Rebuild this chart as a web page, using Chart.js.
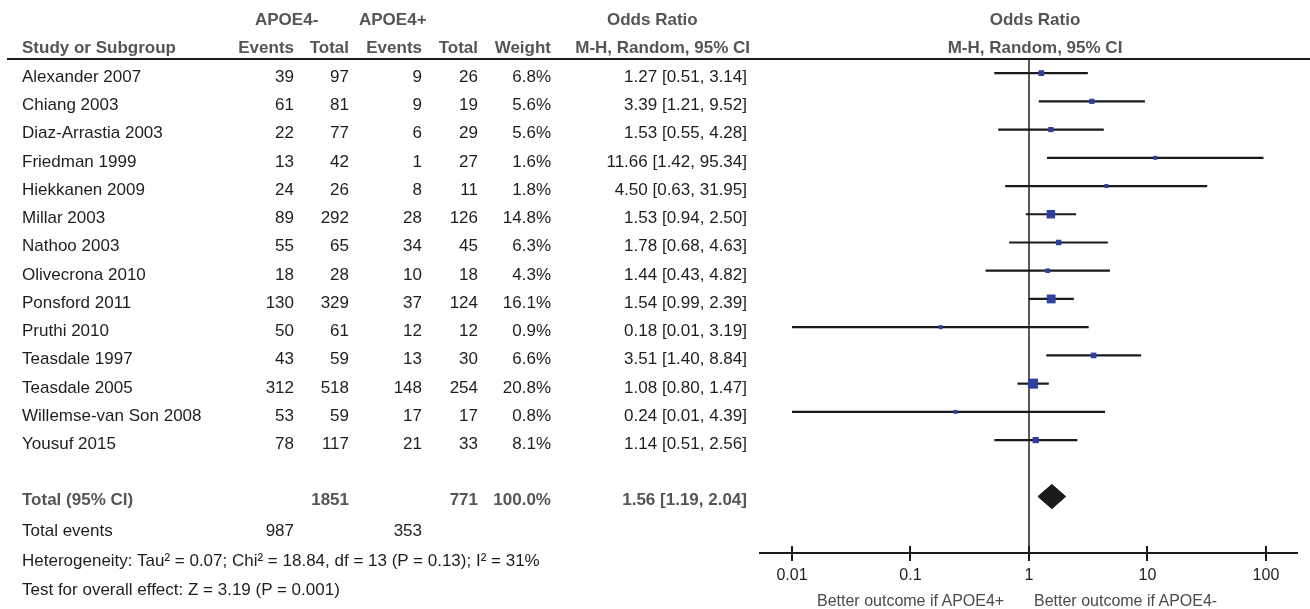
<!DOCTYPE html>
<html>
<head>
<meta charset="utf-8">
<script src="https://cdn.jsdelivr.net/npm/chart.js@4.4.1/dist/chart.umd.min.js"></script>
<style>
  html, body { margin: 0; padding: 0; background: #ffffff; }
  #wrap { position: relative; width: 1310px; height: 609px; overflow: hidden; font-family: "Liberation Sans", Arial, sans-serif; }
  #chartBox { position: absolute; left: 0; top: 0; width: 1310px; height: 609px; }
  .t { position: absolute; white-space: nowrap; font-size: 17px; line-height: 20px; color: #1e1e1e; }
  .h { font-weight: bold; color: #555555; }
  .s { font-size: 16px; }
  .g { color: #4a4a4a; }
  #hline { position: absolute; left: 7px; top: 58px; width: 1303px; height: 2px; background: #1a1a1a; }
</style>
</head>
<body>
<div id="wrap">
  <div id="chartBox"><canvas id="c" width="1310" height="609"></canvas></div>
  <div id="hline"></div>
</div>
<script>
// ---------- data ----------
const studies = ["Alexander 2007","Chiang 2003","Diaz-Arrastia 2003","Friedman 1999","Hiekkanen 2009","Millar 2003","Nathoo 2003","Olivecrona 2010","Ponsford 2011","Pruthi 2010","Teasdale 1997","Teasdale 2005","Willemse-van Son 2008","Yousuf 2015"];
const eventsNeg = [39,61,22,13,24,89,55,18,130,50,43,312,53,78];
const totalNeg  = [97,81,77,42,26,292,65,28,329,61,59,518,59,117];
const eventsPos = [9,9,6,1,8,28,34,10,37,12,13,148,17,21];
const totalPos  = [26,19,29,27,11,126,45,18,124,12,30,254,17,33];
const weights   = [6.8,5.6,5.6,1.6,1.8,14.8,6.3,4.3,16.1,0.9,6.6,20.8,0.8,8.1];
const orEst     = [1.27,3.39,1.53,11.66,4.50,1.53,1.78,1.44,1.54,0.18,3.51,1.08,0.24,1.14];
const ciLow     = [0.51,1.21,0.55,1.42,0.63,0.94,0.68,0.43,0.99,0.01,1.40,0.80,0.01,0.51];
const ciHigh    = [3.14,9.52,4.28,95.34,31.95,2.50,4.63,4.82,2.39,3.19,8.84,1.47,4.39,2.56];
const pooledOR  = 1.56;
const pooledLow = 1.19;
const pooledHigh= 2.04;
const totalNegN = 1851;
const totalPosN = 771;
const totalEventsNeg = 987;
const totalEventsPos = 353;
const xTicks = [0.01, 0.1, 1, 10, 100];
const xTickLabels = ["0.01","0.1","1","10","100"];

// ---------- layout helpers (text table) ----------
const wrap = document.getElementById('wrap');
function txt(str, cls, cy, opt) {
  const d = document.createElement('div');
  d.className = 't ' + (cls || '');
  d.textContent = str;
  d.style.top = (cy - 10) + 'px';
  if (opt.left !== undefined) d.style.left = opt.left + 'px';
  if (opt.right !== undefined) d.style.right = (1310 - opt.right) + 'px';
  if (opt.center !== undefined) { d.style.left = opt.center + 'px'; d.style.transform = 'translateX(-50%)'; }
  wrap.appendChild(d);
}
const fmt2 = v => v.toFixed(2);
const fmtW = v => v.toFixed(1) + '%';
const COL = { name: 22, ev1: 294, tot1: 349, ev2: 422, tot2: 478, w: 551, or: 747 };
const rowY = i => 77 + 28.23 * i;

// headers
txt('APOE4-', 'h', 20, { left: 255 });
txt('APOE4+', 'h', 20, { left: 359 });
txt('Odds Ratio', 'h', 20, { left: 607 });
txt('Odds Ratio', 'h', 20, { center: 1035 });
txt('Study or Subgroup', 'h', 48, { left: COL.name });
txt('Events', 'h', 48, { right: COL.ev1 });
txt('Total', 'h', 48, { right: COL.tot1 });
txt('Events', 'h', 48, { right: COL.ev2 });
txt('Total', 'h', 48, { right: COL.tot2 });
txt('Weight', 'h', 48, { right: COL.w });
txt('M-H, Random, 95% CI', 'h', 48, { right: 750 });
txt('M-H, Random, 95% CI', 'h', 48, { center: 1035 });

studies.forEach((s, i) => {
  const y = rowY(i);
  txt(s, '', y, { left: COL.name });
  txt(String(eventsNeg[i]), '', y, { right: COL.ev1 });
  txt(String(totalNeg[i]), '', y, { right: COL.tot1 });
  txt(String(eventsPos[i]), '', y, { right: COL.ev2 });
  txt(String(totalPos[i]), '', y, { right: COL.tot2 });
  txt(fmtW(weights[i]), '', y, { right: COL.w });
  txt(fmt2(orEst[i]) + ' [' + fmt2(ciLow[i]) + ', ' + fmt2(ciHigh[i]) + ']', '', y, { right: COL.or });
});

const totY = rowY(15);
txt('Total (95% CI)', 'h', totY, { left: COL.name });
txt(String(totalNegN), 'h', totY, { right: COL.tot1 });
txt(String(totalPosN), 'h', totY, { right: COL.tot2 });
txt('100.0%', 'h', totY, { right: COL.w });
txt(fmt2(pooledOR) + ' [' + fmt2(pooledLow) + ', ' + fmt2(pooledHigh) + ']', 'h', totY, { right: COL.or });
txt('Total events', '', 531, { left: COL.name });
txt(String(totalEventsNeg), '', 531, { right: COL.ev1 });
txt(String(totalEventsPos), '', 531, { right: COL.ev2 });
txt('Heterogeneity: Tau\u00B2 = 0.07; Chi\u00B2 = 18.84, df = 13 (P = 0.13); I\u00B2 = 31%', '', 561, { left: COL.name });
txt('Test for overall effect: Z = 3.19 (P = 0.001)', '', 590, { left: COL.name });
txt('Better outcome if APOE4+', 's g', 601, { left: 817 });
txt('Better outcome if APOE4-', 's g', 601, { left: 1034 });

// ---------- chart ----------
const ciDatasets = studies.map((s, i) => ({
  type: 'line',
  label: s + ' CI',
  data: [{ x: ciLow[i], y: i }, { x: ciHigh[i], y: i }],
  borderColor: '#1a1a1a',
  borderWidth: 2.2,
  pointRadius: 0,
  fill: false,
  order: 3
}));

const squares = {
  type: 'scatter',
  label: 'Study OR',
  data: studies.map((s, i) => ({ x: orEst[i], y: i })),
  pointStyle: 'rect',
  pointRadius: ctx => Math.max(4, 2.2 * Math.sqrt(weights[ctx.dataIndex])) / Math.SQRT2,
  backgroundColor: '#2f3f9d',
  borderWidth: 0,
  order: 0
};

const DIAMOND_HALF = 0.43;
const diamond = {
  type: 'line',
  label: 'Pooled',
  data: [
    { x: pooledLow, y: 15 },
    { x: pooledOR, y: 15 - DIAMOND_HALF },
    { x: pooledHigh, y: 15 },
    { x: pooledOR, y: 15 + DIAMOND_HALF },
    { x: pooledLow, y: 15 }
  ],
  borderColor: '#1a1a1a',
  backgroundColor: '#1a1a1a',
  borderWidth: 1,
  pointRadius: 0,
  tension: 0,
  fill: 'shape',
  order: 1
};

const tickTop = {
  id: 'tickTop',
  afterDraw(chart) {
    const s = chart.scales.x;
    const ctx = chart.ctx;
    ctx.save();
    ctx.strokeStyle = '#1a1a1a';
    ctx.lineWidth = 2;
    s.ticks.forEach(t => {
      const px = Math.round(s.getPixelForValue(t.value));
      ctx.beginPath();
      ctx.moveTo(px, s.top - 7);
      ctx.lineTo(px, s.top);
      ctx.stroke();
    });
    ctx.restore();
  }
};

new Chart(document.getElementById('c'), {
  type: 'scatter',
  data: { datasets: [squares, diamond, ...ciDatasets] },
  plugins: [tickTop],
  options: {
    responsive: false,
    devicePixelRatio: 1,
    animation: false,
    layout: { padding: { left: 760, right: 13, top: 59, bottom: 0 } },
    plugins: { legend: { display: false }, tooltip: { enabled: false } },
    scales: {
      x: {
        type: 'logarithmic',
        min: 0.00537,
        max: 182.8,
        afterBuildTicks: scale => { scale.ticks = xTicks.map(v => ({ value: v })); },
        afterFit: scale => { scale.height = 56; },
        ticks: {
          autoSkip: false,
          maxRotation: 0,
          padding: 5,
          color: '#1e1e1e',
          font: { family: '"Liberation Sans", Arial, sans-serif', size: 16 },
          callback: (v) => xTickLabels[xTicks.indexOf(v)] ?? ''
        },
        grid: {
          drawOnChartArea: true,
          drawTicks: true,
          tickLength: 8,
          tickColor: '#1a1a1a',
          tickWidth: 2,
          lineWidth: 2,
          color: ctx => (ctx.tick && ctx.tick.value === 1) ? '#5a5a5a' : 'rgba(0,0,0,0)'
        },
        border: { display: true, color: '#1a1a1a', width: 2 }
      },
      y: {
        type: 'linear',
        reverse: true,
        min: -0.5,
        max: 17,
        display: false
      }
    }
  }
});
</script>
</body>
</html>
